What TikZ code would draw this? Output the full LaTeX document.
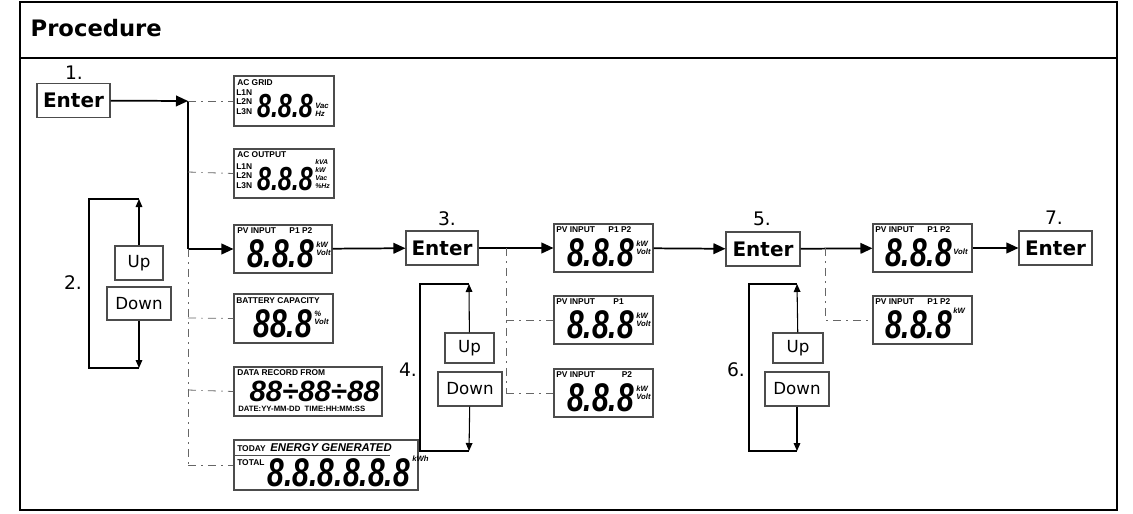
\documentclass[tikz,border=0pt]{standalone}
\usepackage{fontspec}
\setmainfont{Liberation Sans}
\newfontfamily\tah{DejaVu Sans}
\usetikzlibrary{arrows.meta}
\begin{document}
\begin{tikzpicture}[x=0.75pt,y=-0.75pt,
 box/.style 2 args={draw=black!70,line width=0.8pt,inner sep=0,minimum width=#1*0.75pt,minimum height=#2*0.75pt},
 ent/.style={box={#1}{34},font=\tah\bfseries\fontsize{15}{15}\selectfont},
 ud/.style={font=\tah\fontsize{12.5}{12}\selectfont},
 num/.style={font=\tah\fontsize{14}{14}\selectfont},
 lab/.style={font=\bfseries\fontsize{6.3}{6.5}\selectfont,inner sep=0,anchor=north west},
 unit/.style={font=\bfseries\itshape\fontsize{5.8}{6}\selectfont,inner sep=0,align=left,anchor=west},
 dig/.style={font=\bfseries\itshape\fontsize{30}{30}\selectfont,inner sep=0,anchor=base east},
 main/.style={line width=1.3pt,-{Triangle[length=9pt,width=8pt]}},
 dd/.style={black!60,line width=0.6pt,dash pattern=on 6pt off 4pt on 1pt off 4pt},
 loop/.style={line width=0.8pt},
 lar/.style={line width=0.8pt,-{Triangle[length=6pt,width=5pt]}}]
\useasboundingbox (0,0) rectangle (1133,514);
\newcommand\dg[1]{\scalebox{0.75}[1]{#1}}
\newcommand\dgs[1]{\fontsize{25}{25}\selectfont\scalebox{0.75}[1]{#1}}
% frame
\draw[line width=1.2pt] (20,2) rectangle (1117,510);
\draw[line width=1.2pt] (20,58) -- (1117,58);
\node[anchor=west,font=\tah\bfseries\fontsize{17}{17}\selectfont] (title) at (26,28) {Procedure};
% step 1
\node[ent=73] (e1) at (73.5,100.5) {Enter};
\node[num] (n1) at (74,73) {1.};
\coordinate (t0) at (188,101);
\coordinate (t1) at (188,172);
\coordinate (t2) at (188,249);
\coordinate (t3) at (188,318);
\coordinate (t4) at (188,390);
\coordinate (t5) at (188,465);
% LCD boxes column 1
\node[box={100}{50}] (g) at (284,101) {};
\node[box={100}{49}] (o) at (284,173.5) {};
\node[box={98}{48}] (p) at (283,249) {};
\node[box={99}{49}] (b) at (283.5,318.5) {};
\node[box={148}{49}] (d) at (308,391.5) {};
\node[box={184}{50}] (en) at (326,465) {};
\draw[main] (e1) -- (t0);
\draw[line width=1.3pt] (t0) -- (t2);
\draw[main] (t2) -- (p);
\draw[dd] (t2) -- (t5);
\draw[dd] (t0) -- (g.west);
\draw[dd] (t1) -- (o.west);
\draw[dd] (t3) -- (b.west);
\draw[dd] (t4) -- (d.west);
\draw[dd] (t5) -- (en.west);
% AC GRID
\node[lab] at (237,79) {AC GRID};
\node[lab,align=left,font=\bfseries\fontsize{6.3}{7.3}\selectfont] at (236,89) {L1N\\L2N\\L3N};
\node[dig] at (313,117) {\dgs{8.8.8}};
\node[unit] at (315,110) {Vac\\Hz};
% AC OUTPUT
\node[lab] at (237,151) {AC OUTPUT};
\node[lab,align=left,font=\bfseries\fontsize{6.3}{7.3}\selectfont] at (236,163) {L1N\\L2N\\L3N};
\node[dig] at (313,190) {\dgs{8.8.8}};
\node[unit,font=\bfseries\itshape\fontsize{5.2}{5.8}\selectfont] at (315,174) {kVA\\kW\\Vac\\\%Hz};
% PV input col1
\node[lab] at (237,227) {PV INPUT\hspace{1.6em}P1 P2};
\node[dig] at (314,267) {\dg{8.8.8}};
\node[unit] at (316,249) {kW\\Volt};
% battery
\node[lab] at (236,297) {BATTERY CAPACITY};
\node[dig] at (312,337) {\dg{88.8}};
\node[unit] at (314,318) {\%\\Volt};
% data record
\node[lab] at (237,369) {DATA RECORD FROM};
\node[dig,font=\bfseries\itshape\fontsize{22}{22}\selectfont] at (380,401) {\scalebox{1.0}[1]{88÷88÷88}};
\node[lab,font=\bfseries\fontsize{5.8}{6}\selectfont] at (238,406) {DATE:YY-MM-DD\ \ TIME:HH:MM:SS};
% energy
\node[lab] at (237,443) {TODAY\ \ \textit{\fontsize{8.5}{8.5}\selectfont ENERGY GENERATED}};
\draw[black!70,line width=0.6pt] (235,455) -- (390,455);
\node[lab] at (237,459) {TOTAL};
\node[dig] at (410,486) {\dg{8.8.8.8.8.8}};
\node[unit] at (412,459) {kWh};
% loop 2
\node[box={48}{34},ud] (u2) at (139,263) {Up};
\node[box={64}{33},ud] (d2) at (139,303.5) {Down};
\node[num] (n2) at (73,283) {2.};
\coordinate (a2) at (139,199); \coordinate (b2) at (139,368);
\draw[lar] (u2) -- (a2);
\draw[lar] (d2) -- (b2);
\draw[loop] (a2) -- (89,199) -- (89,368) -- (b2);
% step 3
\node[ent=72] (e3) at (442,248) {Enter};
\node[num] (n3) at (447,219) {3.};
\draw[main] (p) -- (e3);
\node[box={99}{48}] (p2) at (603.5,248) {};
\node[box={99}{48}] (p3) at (603.5,320) {};
\node[box={99}{48}] (p4) at (603.5,393) {};
\coordinate (s0) at (506,248); \coordinate (s1) at (506,320); \coordinate (s2) at (506,393);
\draw[main] (e3) -- (p2);
\draw[dd] (s0) -- (s2);
\draw[dd] (s1) -- (p3.west);
\draw[dd] (s2) -- (p4.west);
\foreach \n/\y/\t in {p2/224/P1 P2,p3/296/\hspace{0.6em}P1,p4/369/\hspace{1.6em}P2}{
 \node[lab] at (556,\y+2) {PV INPUT\hspace{1.6em}\t};
 \node[dig] at (634,\y+42) {\dg{8.8.8}};
 \node[unit] at (636,\y+24) {kW\\Volt};}
% loop 4
\node[box={49}{30},ud] (u4) at (469.5,348) {Up};
\node[box={64}{34},ud] (d4) at (470,389) {Down};
\node[num] (n4) at (408,370) {4.};
\coordinate (a4) at (469,284); \coordinate (b4) at (469,451);
\draw[lar] (u4) -- (a4);
\draw[lar] (d4) -- (b4);
\draw[loop] (a4) -- (420,284) -- (420,451) -- (b4);
% step 5
\node[ent=74] (e5) at (763,249) {Enter};
\node[num] (n5) at (762,219) {5.};
\draw[main] (p2) -- (e5);
\node[box={99}{48}] (p5) at (922.5,248) {};
\node[box={99}{48}] (p6) at (922.5,320) {};
\coordinate (r0) at (825,248); \coordinate (r1) at (825,320);
\draw[main] (e5) -- (p5);
\draw[dd] (r0) -- (r1) -- (p6.west);
\node[lab] at (875,226) {PV INPUT\hspace{1.6em}P1 P2};
\node[dig] at (952,266) {\dg{8.8.8}};
\node[unit] at (953,252) {Volt};
\node[lab] at (875,298) {PV INPUT\hspace{1.6em}P1 P2};
\node[dig] at (952,338) {\dg{8.8.8}};
\node[unit] at (953,311) {kW};
% loop 6
\node[box={50}{30},ud] (u6) at (798,348) {Up};
\node[box={64}{34},ud] (d6) at (797,389) {Down};
\node[num] (n6) at (736,370) {6.};
\coordinate (a6) at (797,284); \coordinate (b6) at (797,451);
\draw[lar] (u6) -- (a6);
\draw[lar] (d6) -- (b6);
\draw[loop] (a6) -- (749,284) -- (749,451) -- (b6);
% step 7
\node[ent=73] (e7) at (1055.5,248) {Enter};
\node[num] (n7) at (1054,218) {7.};
\draw[main] (p5) -- (e7);
\end{tikzpicture}
\end{document}
